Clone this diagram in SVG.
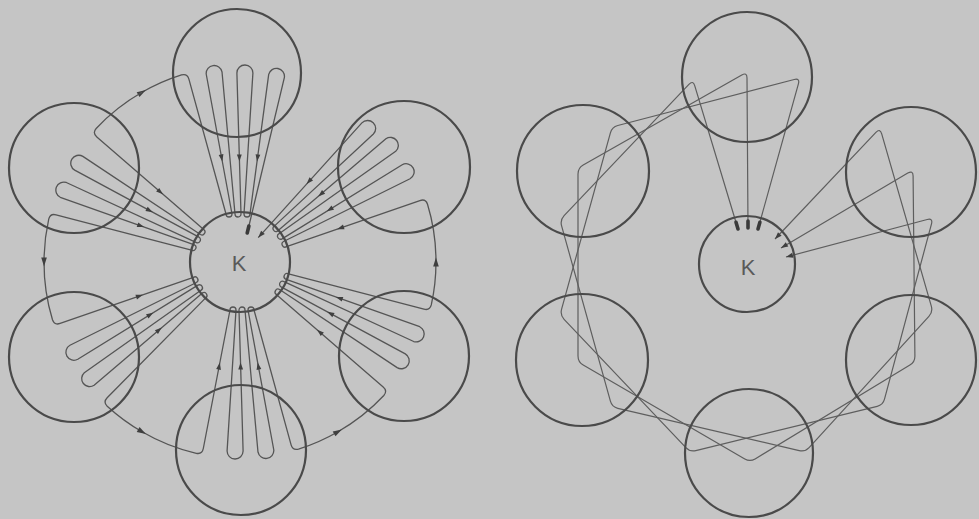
<svg xmlns="http://www.w3.org/2000/svg" width="979" height="519" viewBox="0 0 979 519">
<defs>
<style>
.bg{fill:#c5c5c5}
.node{fill:none;stroke:#4a4a4a;stroke-width:2.2}
.wire{fill:none;stroke:#555;stroke-width:1.3;stroke-linejoin:round}
.wire2{fill:none;stroke:#5e5e5e;stroke-width:1.2;stroke-linejoin:round}
.dash{stroke:#3a3a3a;stroke-width:3.6;stroke-linecap:round}
.lbl{font-family:"Liberation Sans",Arial,sans-serif;font-size:22px;fill:#5a5a5a;text-anchor:middle}
.ar{fill:#3f3f3f}
</style>
<path id="ah" d="M 3.5,0 L -3.5,-2.4 L -3.5,2.4 Z"/>
<path id="ahr" d="M 4.5,0 L -4.5,-2.8 L -4.5,2.8 Z"/>
<path id="aht" d="M 0,0 L -7,-2.5 L -7,2.5 Z"/>
</defs>
<rect class="bg" x="0" y="0" width="979" height="519"/>

<g id="connectors">
  <g id="left-winding" transform="translate(240,262)">
    <g id="w-top">
      <path class="wire" d="M -98,-169.7 A 196 196 0 0 1 -58.5,-187.1 Q -52.7,-188.7 -51.1,-182.9 L -14,-48 A 3 3 0 0 0 -8,-48 L -33.8,-188 A 8 8 0 0 1 -18,-190.2 L -5,-48 A 3 3 0 0 0 1,-48 L -3.1,-189.1 A 8 8 0 0 1 12.9,-188.9 L 4,-48 A 3 3 0 0 0 10,-48 L 28.7,-187.6 A 8 8 0 0 1 44.4,-184.7 L 7,-28"/>
      <line class="dash" x1="8.9" y1="-36" x2="7.2" y2="-29"/>
      <use class="ar" href="#ah" transform="translate(-18.3,-104) rotate(79.6)"/>
      <use class="ar" href="#ah" transform="translate(-0.6,-104) rotate(88.3)"/>
      <use class="ar" href="#ah" transform="translate(17.5,-104) rotate(97.6)"/>
      <use class="ar" href="#ahr" transform="translate(-98,-169.7) rotate(-30)"/>
    </g>
    <g id="w-ur" transform="rotate(60)">
      <path class="wire" d="M -12,-28 L -59.5,-175.1 A 8 8 0 0 1 -44.1,-179.5 L -14,-48 A 3 3 0 0 0 -8,-48 L -33.8,-188 A 8 8 0 0 1 -18,-190.2 L -5,-48 A 3 3 0 0 0 1,-48 L -3.1,-189.1 A 8 8 0 0 1 12.9,-188.9 L 4,-48 A 3 3 0 0 0 10,-48 L 36.7,-186.5 Q 37.8,-192.4 43.7,-191.3 A 196 196 0 0 1 98,-169.7"/>
      <use class="ar" href="#aht" transform="translate(-12,-28) rotate(72.1)"/>
      <use class="ar" href="#ah" transform="translate(-35.3,-100) rotate(72.1)"/>
      <use class="ar" href="#ah" transform="translate(-18.3,-104) rotate(79.6)"/>
      <use class="ar" href="#ah" transform="translate(-0.6,-104) rotate(88.3)"/>
      <use class="ar" href="#ah" transform="translate(20.8,-104) rotate(100.9)"/>
    </g>
    <g id="w-lr" transform="rotate(120)">
      <path class="wire" d="M -98,-169.7 A 196 196 0 0 1 -58.5,-187.1 Q -52.7,-188.7 -51.1,-182.9 L -14,-48 A 3 3 0 0 0 -8,-48 L -33.8,-188 A 8 8 0 0 1 -18,-190.2 L -5,-48 A 3 3 0 0 0 1,-48 L -3.1,-189.1 A 8 8 0 0 1 12.9,-188.9 L 4,-48 A 3 3 0 0 0 10,-48 L 36.7,-186.5 Q 37.8,-192.4 43.7,-191.3 A 196 196 0 0 1 98,-169.7"/>
      <use class="ar" href="#ah" transform="translate(-18.3,-104) rotate(79.6)"/>
      <use class="ar" href="#ah" transform="translate(-0.6,-104) rotate(88.3)"/>
      <use class="ar" href="#ah" transform="translate(20.8,-104) rotate(100.9)"/>
      <use class="ar" href="#ahr" transform="translate(-98,-169.7) rotate(150)"/>
    </g>
    <g id="w-bottom" transform="rotate(180)">
      <path class="wire" d="M -98,-169.7 A 196 196 0 0 1 -58.5,-187.1 Q -52.7,-188.7 -51.1,-182.9 L -14,-48 A 3 3 0 0 0 -8,-48 L -33.8,-188 A 8 8 0 0 1 -18,-190.2 L -5,-48 A 3 3 0 0 0 1,-48 L -3.1,-189.1 A 8 8 0 0 1 12.9,-188.9 L 4,-48 A 3 3 0 0 0 10,-48 L 36.7,-186.5 Q 37.8,-192.4 43.7,-191.3 A 196 196 0 0 1 98,-169.7"/>
      <use class="ar" href="#ah" transform="translate(-18.3,-104) rotate(79.6)"/>
      <use class="ar" href="#ah" transform="translate(-0.6,-104) rotate(88.3)"/>
      <use class="ar" href="#ah" transform="translate(20.8,-104) rotate(100.9)"/>
      <use class="ar" href="#ahr" transform="translate(-98,-169.7) rotate(150)"/>
    </g>
    <g id="w-ll" transform="rotate(240)">
      <path class="wire" d="M -98,-169.7 A 196 196 0 0 1 -58.5,-187.1 Q -52.7,-188.7 -51.1,-182.9 L -14,-48 A 3 3 0 0 0 -8,-48 L -33.8,-188 A 8 8 0 0 1 -18,-190.2 L -5,-48 A 3 3 0 0 0 1,-48 L -3.1,-189.1 A 8 8 0 0 1 12.9,-188.9 L 4,-48 A 3 3 0 0 0 10,-48 L 36.7,-186.5 Q 37.8,-192.4 43.7,-191.3 A 196 196 0 0 1 98,-169.7"/>
      <use class="ar" href="#ah" transform="translate(-18.3,-104) rotate(79.6)"/>
      <use class="ar" href="#ah" transform="translate(-0.6,-104) rotate(88.3)"/>
      <use class="ar" href="#ah" transform="translate(20.8,-104) rotate(100.9)"/>
      <use class="ar" href="#ahr" transform="translate(-98,-169.7) rotate(150)"/>
    </g>
    <g id="w-ul" transform="rotate(300)">
      <path class="wire" d="M -98,-169.7 A 196 196 0 0 1 -58.5,-187.1 Q -52.7,-188.7 -51.1,-182.9 L -14,-48 A 3 3 0 0 0 -8,-48 L -33.8,-188 A 8 8 0 0 1 -18,-190.2 L -5,-48 A 3 3 0 0 0 1,-48 L -3.1,-189.1 A 8 8 0 0 1 12.9,-188.9 L 4,-48 A 3 3 0 0 0 10,-48 L 36.7,-186.5 Q 37.8,-192.4 43.7,-191.3 A 196 196 0 0 1 98,-169.7"/>
      <use class="ar" href="#ah" transform="translate(-18.3,-104) rotate(79.6)"/>
      <use class="ar" href="#ah" transform="translate(-0.6,-104) rotate(88.3)"/>
      <use class="ar" href="#ah" transform="translate(20.8,-104) rotate(100.9)"/>
      <use class="ar" href="#ahr" transform="translate(-98,-169.7) rotate(150)"/>
    </g>
  </g>
  <g id="right-winding">
    <path class="wire2" d="M 738,229 L 694.7,85.7 Q 693,80 688.9,84.4 L 564.1,215.6 Q 560,220 561.6,225.8 L 610.4,401.2 Q 612,407 617.8,408.4 L 799.2,450.6 Q 805,452 809.1,447.6 L 928.9,316.4 Q 933,312 931.3,306.2 L 881.7,133.8 Q 880,128 875.9,132.4 L 775,239"/>
    <path class="wire2" d="M 748,228 L 747,78 Q 747,72 741.8,75 L 583.2,165 Q 578,168 578,174 L 578,356 Q 578,362 583.2,365 L 744.8,459 Q 750,462 755.1,458.9 L 909.9,365.1 Q 915,362 914.9,356 L 913.1,176 Q 913,170 907.8,173.1 L 781,248"/>
    <path class="wire2" d="M 758,229 L 798.4,83.8 Q 800,78 794.2,79.5 L 617.8,125.5 Q 612,127 610.4,132.8 L 561.6,309.2 Q 560,315 564.1,319.4 L 685.9,447.6 Q 690,452 695.8,450.6 L 877.2,406.4 Q 883,405 884.5,399.2 L 931.5,223.8 Q 933,218 927.2,219.5 L 786,257"/>
    <line class="dash" x1="736" y1="222.3" x2="738" y2="229"/>
    <line class="dash" x1="748" y1="221" x2="748" y2="228"/>
    <line class="dash" x1="759.9" y1="222.3" x2="758" y2="229"/>
    <use class="ar" href="#aht" transform="translate(775,239) rotate(133.4)"/>
    <use class="ar" href="#aht" transform="translate(781,248) rotate(149.4)"/>
    <use class="ar" href="#aht" transform="translate(786,257) rotate(165.2)"/>
  </g>
</g>

<g id="L-K"><circle class="node" cx="240" cy="262" r="50"/><text class="lbl" x="239" y="271">K</text></g>
<g id="L-top"><circle class="node" cx="237" cy="73" r="64"/></g>
<g id="L-ul"><circle class="node" cx="74" cy="168" r="65"/></g>
<g id="L-ur"><circle class="node" cx="404" cy="167" r="66"/></g>
<g id="L-ll"><circle class="node" cx="74" cy="357" r="65"/></g>
<g id="L-lr"><circle class="node" cx="404" cy="356" r="65"/></g>
<g id="L-bottom"><circle class="node" cx="241" cy="450" r="65"/></g>

<g id="R-K"><circle class="node" cx="747" cy="264" r="48"/><text class="lbl" x="748" y="275">K</text></g>
<g id="R-top"><circle class="node" cx="747" cy="77" r="65"/></g>
<g id="R-ul"><circle class="node" cx="583" cy="171" r="66"/></g>
<g id="R-ur"><circle class="node" cx="911" cy="172" r="65"/></g>
<g id="R-ll"><circle class="node" cx="582" cy="360" r="66"/></g>
<g id="R-lr"><circle class="node" cx="911" cy="360" r="65"/></g>
<g id="R-bottom"><circle class="node" cx="749" cy="453" r="64"/></g>
</svg>
